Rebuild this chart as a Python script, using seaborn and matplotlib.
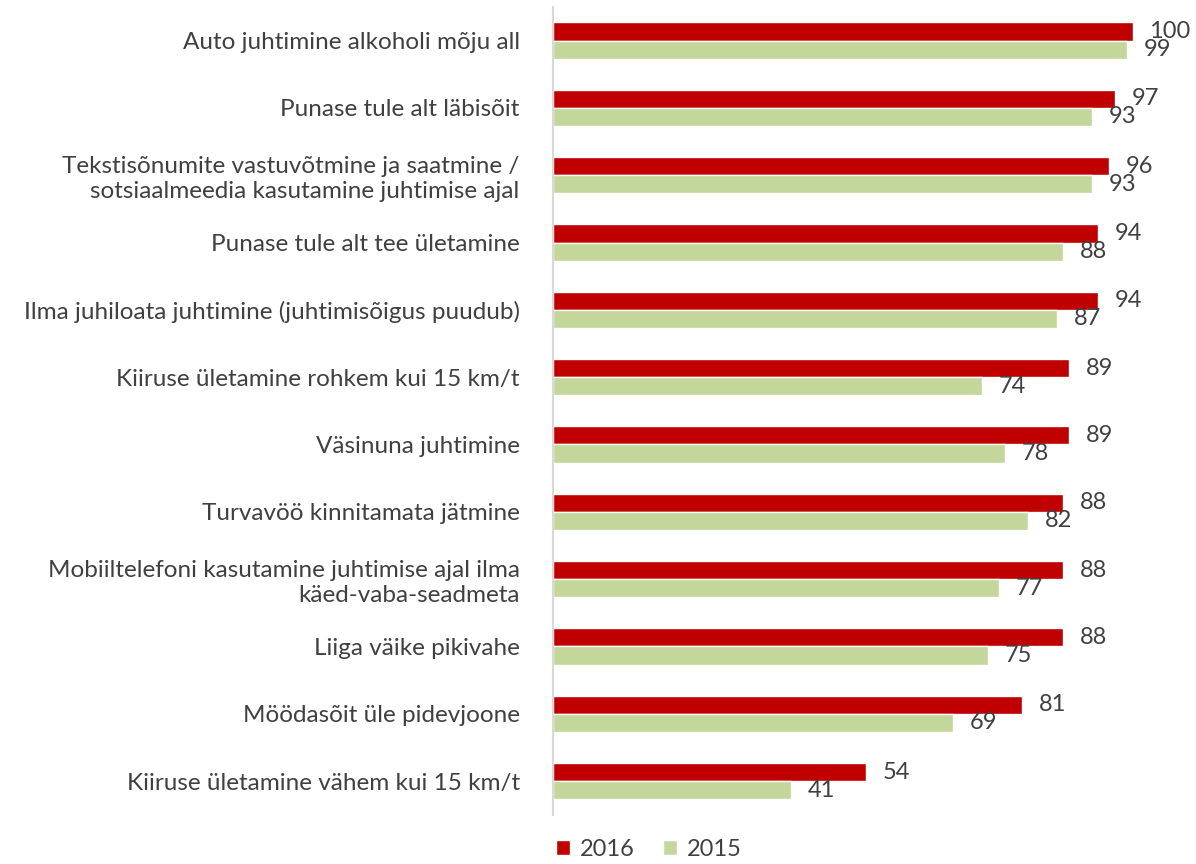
import pandas as pd
import matplotlib.pyplot as plt
import seaborn as sns

# Andmed
kategooriad = [
    'Auto juhtimine alkoholi mõju all',
    'Punase tule alt läbisõit',
    'Tekstisõnumite vastuvõtmine ja saatmine /\nsotsiaalmeedia kasutamine juhtimise ajal',
    'Punase tule alt tee ületamine',
    'Ilma juhiloata juhtimine (juhtimisõigus puudub)',
    'Kiiruse ületamine rohkem kui 15 km/t',
    'Väsinuna juhtimine',
    'Turvavöö kinnitamata jätmine',
    'Mobiiltelefoni kasutamine juhtimise ajal ilma\nkäed-vaba-seadmeta',
    'Liiga väike pikivahe',
    'Möödasõit üle pidevjoone',
    'Kiiruse ületamine vähem kui 15 km/t',
]
v2016 = [100, 97, 96, 94, 94, 89, 89, 88, 88, 88, 81, 54]
v2015 = [99, 93, 93, 88, 87, 74, 78, 82, 77, 75, 69, 41]

df = pd.DataFrame({
    'kategooria': kategooriad * 2,
    'vaartus': v2016 + v2015,
    'aasta': ['2016'] * len(v2016) + ['2015'] * len(v2015),
})

sns.set_style('white')
plt.rcParams['font.family'] = ['Lato', 'DejaVu Sans']

fig = plt.figure(figsize=(11.96, 8.64), dpi=100)
ax = fig.add_axes([0.4624, 0.057, 0.533, 0.935])

sns.barplot(data=df, y='kategooria', x='vaartus', hue='aasta',
            hue_order=['2016', '2015'], order=kategooriad,
            palette={'2016': '#C00000', '2015': '#C4D79B'},
            width=0.54, saturation=1, ax=ax)

for cont in ax.containers:
    ax.bar_label(cont, padding=12, fontsize=17, color='#404040')

ax.set_xlim(0, 110)
ax.set_ylim(11.5, -0.5)
ax.set_xlabel('')
ax.set_ylabel('')
ax.set_xticks([])
ax.tick_params(axis='y', length=0, pad=24, labelsize=17.5, labelcolor='#404040')
for s in ['top', 'right', 'bottom']:
    ax.spines[s].set_visible(False)
ax.spines['left'].set_color('#D9D9D9')
ax.spines['left'].set_linewidth(1.5)

leg = ax.legend(loc='upper center', bbox_to_anchor=(0.15, -0.012), ncol=2,
                frameon=False, fontsize=17, handlelength=0.6, handleheight=0.6,
                columnspacing=1.2, handletextpad=0.4, borderpad=0.1)
for t in leg.get_texts():
    t.set_color('#404040')

fig.savefig('out.png', dpi=100)
